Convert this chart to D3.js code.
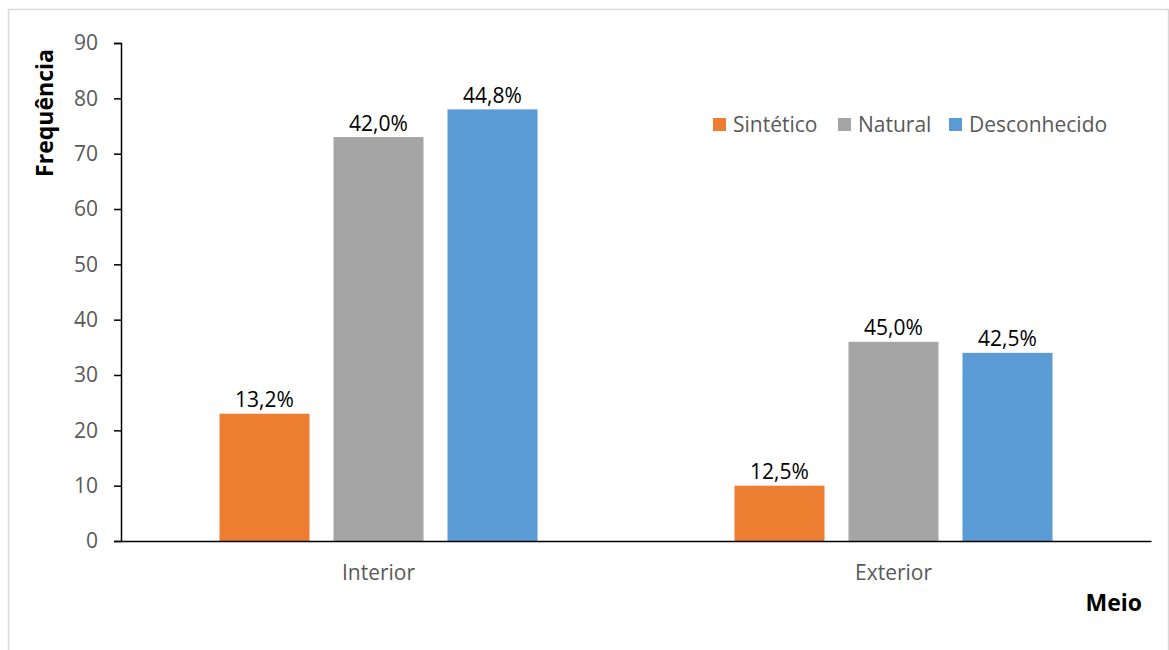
<!DOCTYPE html>
<html>
<head>
<meta charset="utf-8">
<script src="https://cdn.jsdelivr.net/npm/d3@7"></script>
<style>
  body { margin: 0; background: #fff; }
  svg { display: block; font-family: "Open Sans", "Noto Sans", sans-serif; }
</style>
</head>
<body>
<svg id="chart" width="1169" height="650"></svg>
<script>
// Frequência por meio e tipo de material
const categories = ["Interior", "Exterior"];
const seriesNames = ["Sintético", "Natural", "Desconhecido"];
const seriesColors = ["#ed7d31", "#a5a5a5", "#5b9bd5"];
const sinteticoValues = [23, 10];
const naturalValues = [73, 36];
const desconhecidoValues = [78, 34];
const percentLabels = [["13,2%", "42,0%", "44,8%"], ["12,5%", "45,0%", "42,5%"]];
const yTicks = [0, 10, 20, 30, 40, 50, 60, 70, 80, 90];

const seriesValues = [sinteticoValues, naturalValues, desconhecidoValues];
const FONT = "'Open Sans', 'Noto Sans', sans-serif";

const svg = d3.select("#chart");
const margin = { left: 121, right: 18, top: 43, bottom: 109 };
const W = 1169, H = 650;
const plotL = margin.left, plotR = W - margin.right, plotT = margin.top, plotB = H - margin.bottom;

// outer frame
svg.append("rect")
  .attr("x", 8.5).attr("y", 9.5)
  .attr("width", 1160).attr("height", 660)
  .attr("fill", "none").attr("stroke", "#d9d9d9").attr("stroke-width", 1.5);

const y = d3.scaleLinear().domain([0, 90]).range([plotB, plotT]);
const x0 = d3.scaleBand().domain(categories).range([plotL, plotR]).padding(0);
const x1 = d3.scaleBand().domain(seriesNames).range([0, x0.bandwidth()])
  .paddingInner(0.2105).paddingOuter(0.864);

// bars
const groups = svg.append("g").selectAll("g")
  .data(categories).join("g")
  .attr("transform", d => `translate(${x0(d)},0)`);

groups.each(function(cat, ci) {
  const g = d3.select(this);
  seriesNames.forEach((s, si) => {
    const v = seriesValues[si][ci];
    g.append("rect")
      .attr("x", x1(s)).attr("y", y(v))
      .attr("width", x1.bandwidth()).attr("height", y(0) - y(v))
      .attr("fill", seriesColors[si]);
    g.append("text")
      .attr("x", x1(s) + x1.bandwidth() / 2).attr("y", y(v) - 6.5)
      .attr("text-anchor", "middle")
      .attr("font-size", 21).attr("fill", "#000")
      .text(percentLabels[ci][si]);
  });
});

// y axis
const yAxis = svg.append("g")
  .attr("transform", `translate(${plotL},0)`)
  .call(d3.axisLeft(y).tickValues(yTicks).tickSize(7).tickPadding(16).tickFormat(d3.format("d")));
yAxis.select(".domain").attr("stroke", "#000").attr("stroke-width", 1.5);
yAxis.selectAll(".tick line").attr("stroke", "#000").attr("stroke-width", 1.5);
yAxis.selectAll(".tick text").attr("font-size", 21).attr("fill", "#595959")
  .attr("font-family", FONT);

// x axis
const xAxis = svg.append("g")
  .attr("transform", `translate(0,${plotB})`)
  .call(d3.axisBottom(x0).tickSize(0).tickPadding(24));
xAxis.select(".domain").attr("stroke", "#000").attr("stroke-width", 1.5);
xAxis.selectAll(".tick text").attr("font-size", 21).attr("fill", "#595959")
  .attr("font-family", FONT);

// axis titles
svg.append("text")
  .attr("transform", `translate(53,113) rotate(-90)`)
  .attr("text-anchor", "middle")
  .attr("font-size", 23).attr("font-weight", "bold").attr("fill", "#000")
  .text("Frequência");

svg.append("text")
  .attr("x", 1142).attr("y", 611)
  .attr("text-anchor", "end")
  .attr("font-size", 23).attr("font-weight", "bold").attr("fill", "#000")
  .text("Meio");

// legend
const legendX = [713, 838, 949];
const legend = svg.append("g").selectAll("g")
  .data(seriesNames).join("g")
  .attr("transform", (d, i) => `translate(${legendX[i]},118)`);
legend.append("rect").attr("width", 13).attr("height", 13)
  .attr("fill", (d, i) => seriesColors[i]);
legend.append("text").attr("x", 20).attr("y", 14)
  .attr("font-size", 21).attr("fill", "#595959")
  .text(d => d);
</script>
</body>
</html>
